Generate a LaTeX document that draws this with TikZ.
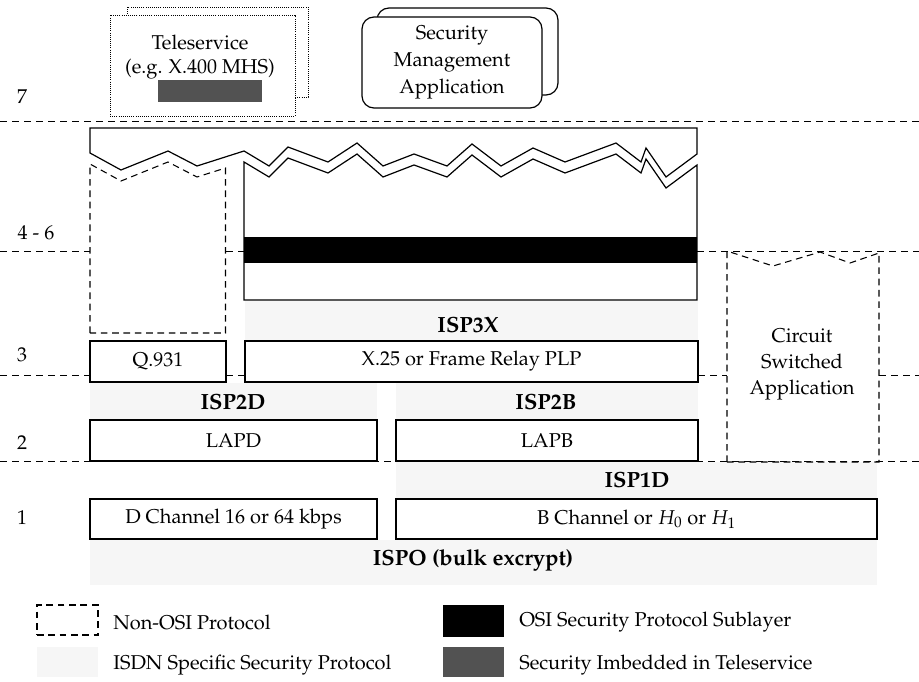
\documentclass[tikz,border=0pt]{standalone}
\usepackage[T1]{fontenc}
\usepackage{mathpazo}
\tikzset{
  pxsize/.style 2 args={minimum width=#1*0.75pt, minimum height=#2*0.75pt, inner sep=0pt},
  layerline/.style={dash pattern=on 5.5pt off 3.5pt, line width=0.7pt},
  nonosi/.style={dash pattern=on 5pt off 3.5pt, line width=0.8pt},
  dotbox/.style={densely dotted, line width=0.6pt},
  protobox/.style={draw, line width=1.1pt, fill=white},
  outline/.style={line width=0.9pt, line join=miter},
  band/.style={fill=black!3.5, draw=none},
  embedded/.style={fill=black!68, draw=none},
  isplabel/.style={font=\fontsize{16.5}{19}\selectfont\bfseries},
  legendtext/.style={anchor=west, inner sep=0pt},
}
\begin{document}
\begin{tikzpicture}[x=0.75pt, y=-0.75pt, font=\fontsize{15}{18}\selectfont]
\useasboundingbox (0,0) rectangle (919,681);

% ISDN specific security protocol bands
\fill[band] (245,301) rectangle (698,340);
\fill[band] (90,383) rectangle (377,419);
\fill[band] (396,383) rectangle (698,419);
\fill[band] (396,462) rectangle (877,498);
\fill[band] (90,540) rectangle (877,585);

% layer boundaries
\draw[layerline] (0,121) -- (919,121);
\draw[layerline] (0,251) -- (90,251) (226,251) -- (244,251) (697,251) -- (919,251);
\draw[layerline] (0,375) -- (90,375) (226,375) -- (245,375) (698,375) -- (727,375) (879,375) -- (919,375);
\draw[layerline] (0,461) -- (919,461);

% layer numbers
\node (l7) at (22,97) {7};
\node (l46) at (36,233) {4 - 6};
\node (l3) at (22,355) {3};
\node (l2) at (22,443) {2};
\node (l1) at (22,518) {1};

% teleservice
\draw[dotbox] (127,7) rectangle (308,97);
\node[dotbox, draw, fill=white, pxsize={185}{101}] (tele) at (202.5,65.5) {};
\node[align=center, font=\fontsize{15}{18}\selectfont] (teletext) at (200,57) {Teleservice\\(e.g. X.400 MHS)};
\node[embedded, pxsize={104}{22}] (telesec) at (210,91) {};

% security management application
\draw[line width=0.9pt, rounded corners=9pt] (377,8) rectangle (558,95);
\node[draw, line width=0.9pt, rounded corners=9pt, fill=white, pxsize={180}{91},
      align=center, font=\fontsize{15}{20.5}\selectfont] (secmgmt) at (452,62.5)
      {Security\\Management\\Application};

% layers 4-6: upper part of the stack
\draw[outline] (90,153) -- (90,128) -- (697,128) -- (697,154) -- (666,177) -- (646,148)
  -- (641,162) -- (616,143) -- (565,162) -- (533,148) -- (501,166) -- (472,144)
  -- (447,166) -- (414,154) -- (383,166) -- (357,143) -- (328,162) -- (288,147)
  -- (269,166) -- (244,151) -- (197,166) -- (168,151) -- (121,170) -- cycle;

% layers 4-6 above X.25 with the OSI security sublayer
\fill (244,237) rectangle (697,263);
\draw[outline] (244,300) -- (244,162) -- (269,177) -- (288,158) -- (328,173) -- (357,154)
  -- (383,177) -- (414,165) -- (447,177) -- (472,155) -- (501,177) -- (533,159)
  -- (565,173) -- (616,154) -- (641,173) -- (646,159) -- (666,188) -- (697,165)
  -- (697,300) -- cycle;

% non-OSI region above Q.931
\draw[nonosi] (90,333) -- (90,164) -- (121,181) -- (168,162) -- (197,177) -- (225.5,168)
  -- (225.5,333) -- cycle;

% circuit switched application
\draw[nonosi] (727,462) -- (727,251) -- (773,266) -- (820,252) -- (850,263) -- (879,253)
  -- (879,462) -- cycle;
\node[align=center, font=\fontsize{15}{19.5}\selectfont] (circuit) at (802,364)
  {Circuit\\Switched\\Application};

% protocol boxes
\node[protobox, pxsize={136}{41}] (q931) at (158,361.5) {Q.931};
\node[protobox, pxsize={453}{41}] (x25) at (471.5,361.5) {X.25 or Frame Relay PLP};
\node[protobox, pxsize={287}{41}] (lapd) at (233.5,440.5) {LAPD};
\node[protobox, pxsize={302}{41}] (lapb) at (547,440.5) {LAPB};
\node[protobox, pxsize={287}{40}] (dch) at (233.5,519) {D Channel 16 or 64 kbps};
\node[protobox, pxsize={481}{40}] (bch) at (636.5,519) {B Channel or $H_0$ or $H_1$};

% security protocol labels
\node[isplabel] (isp3x) at (468,325) {ISP3X};
\node[isplabel] (isp2d) at (233,402) {ISP2D};
\node[isplabel] (isp2b) at (546,402) {ISP2B};
\node[isplabel] (isp1d) at (637,480) {ISP1D};
\node[isplabel] (isp0) at (473,560) {ISPO (bulk excrypt)};

% legend
\node[nonosi, draw, pxsize={61}{30}] (kn) at (67.5,620) {};
\node[legendtext] (kntext) at (113,622) {Non-OSI Protocol};
\node[band, pxsize={61}{30}] (ki) at (67.5,662) {};
\node[legendtext] (kitext) at (113,665) {ISDN Specific Security Protocol};
\node[fill=black, pxsize={61}{32}] (ko) at (473.5,621) {};
\node[legendtext] (kotext) at (519,622) {OSI Security Protocol Sublayer};
\node[embedded, pxsize={61}{30}] (ke) at (473.5,662) {};
\node[legendtext] (ketext) at (519,665) {Security Imbedded in Teleservice};
\end{tikzpicture}
\end{document}
